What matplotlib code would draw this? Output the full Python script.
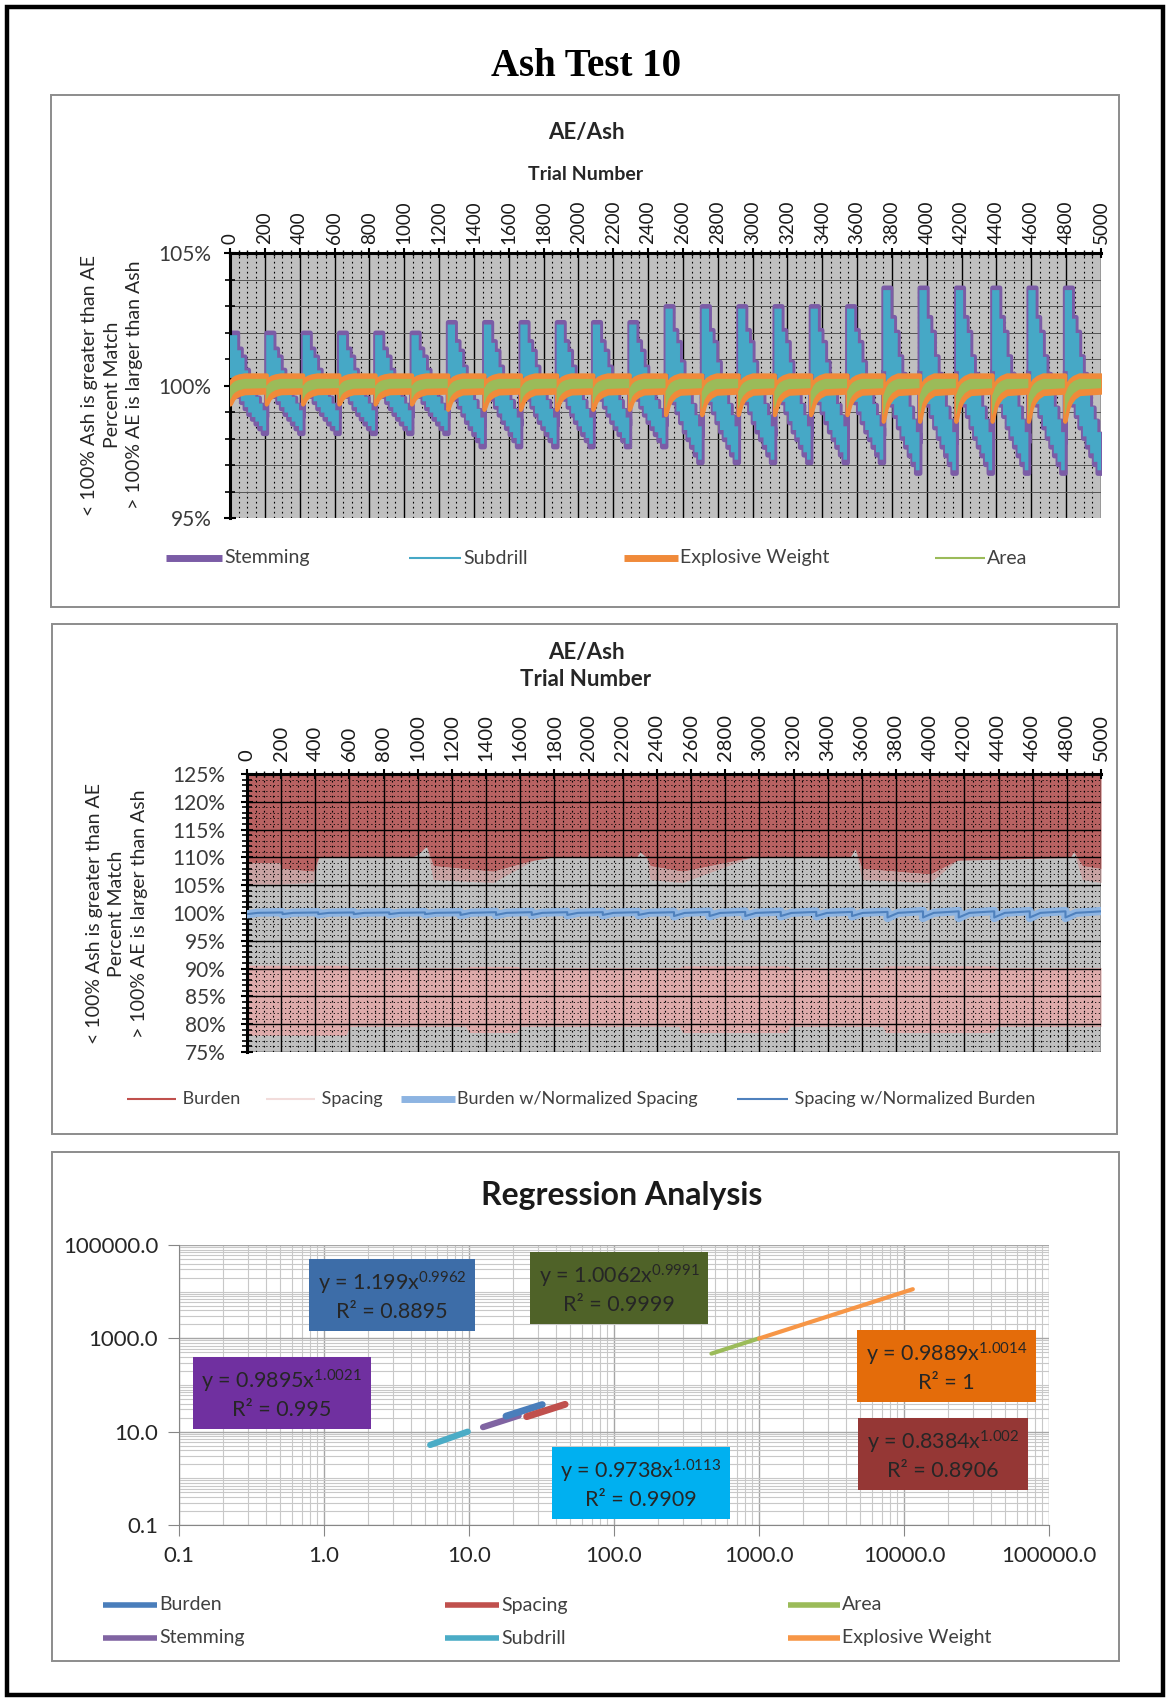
import matplotlib
matplotlib.use('Agg')
import matplotlib.pyplot as plt
from matplotlib.patches import Rectangle
from matplotlib.lines import Line2D
from matplotlib.ticker import MultipleLocator, FuncFormatter, FixedLocator, LogLocator, NullFormatter

plt.rcParams['font.family'] = ['Lato', 'DejaVu Sans']
plt.rcParams['mathtext.default'] = 'regular'

W, H = 1168, 1700
n_trials = 5000

# ---- AE/Ash sweep: 24 cycles of the parameter loop
cycle_start = [0, 208, 417, 625, 833, 1042, 1250, 1458, 1667, 1875, 2083, 2292,
               2500, 2708, 2917, 3125, 3333, 3542, 3750, 3958, 4167, 4375, 4583, 4792]

stem_peak = [102.0, 102.0, 102.0, 102.0, 102.0, 102.0, 102.4, 102.4, 102.4, 102.4, 102.4, 102.4,
             103.0, 103.0, 103.0, 103.0, 103.0, 103.0, 103.7, 103.7, 103.7, 103.7, 103.7, 103.7]
stem_trough = [98.2, 98.2, 98.2, 98.2, 98.2, 98.2, 97.7, 97.7, 97.7, 97.7, 97.7, 97.7,
               97.1, 97.1, 97.1, 97.1, 97.1, 97.1, 96.7, 96.7, 96.7, 96.7, 96.7, 96.7]
sub_peak = [101.9, 101.9, 101.9, 101.9, 101.9, 101.9, 102.3, 102.3, 102.3, 102.3, 102.3, 102.3,
            102.9, 102.9, 102.9, 102.9, 102.9, 102.9, 103.6, 103.6, 103.6, 103.6, 103.6, 103.6]
sub_trough = [98.3, 98.3, 98.3, 98.3, 98.3, 98.3, 97.8, 97.8, 97.8, 97.8, 97.8, 97.8,
              97.2, 97.2, 97.2, 97.2, 97.2, 97.2, 96.8, 96.8, 96.8, 96.8, 96.8, 96.8]

# shape of one cycle (+1 = peak, -1 = trough)
stem_f = [0.0, 0.08, 0.15, 0.2, 0.3, 0.4, 0.5, 0.6, 0.7, 0.8, 0.9, 1.0]
stem_up = [1.0, 1.0, 1.0, 0.7, 0.55, 0.3, 0.12, -0.08, -0.25, -0.4, -0.55, -0.65]
stem_lo = [0.15, 0.0, -0.12, -0.22, -0.35, -0.48, -0.6, -0.7, -0.8, -0.9, -1.0, -1.0]

# explosive weight / area: flat band with a dip at each cycle start
ew_hi, ew_lo = 100.4, 99.75
ew_dip = [99.3, 99.3, 99.3, 99.3, 99.3, 99.3, 99.1, 99.1, 99.1, 99.1, 99.1, 99.1,
          98.9, 98.9, 98.9, 98.9, 98.9, 98.9, 98.65, 98.65, 98.65, 98.65, 98.65, 98.65]
area_hi, area_lo = 100.25, 99.9
area_dip = [99.45, 99.45, 99.45, 99.45, 99.45, 99.45, 99.3, 99.3, 99.3, 99.3, 99.3, 99.3,
            99.1, 99.1, 99.1, 99.1, 99.1, 99.1, 98.85, 98.85, 98.85, 98.85, 98.85, 98.85]
dip_f = [0.0, 0.03, 0.08, 0.15, 0.25, 0.4, 1.0]
dip_wl = [1.0, 0.85, 0.55, 0.35, 0.18, 0.05, 0.0]
dip_wu = [0.6, 0.5, 0.32, 0.18, 0.08, 0.0, 0.0]

# ---- burden / spacing panel
burden_t = [0, 190, 200, 390, 420, 960, 1000, 1050, 1090, 1440, 1680, 1780, 2280, 2300,
            2340, 2360, 2550, 2950, 3530, 3560, 3600, 4000, 4160, 4820, 4840, 4890, 5000]
burden_edge = [109.0, 109.0, 108.0, 107.5, 110.0, 110.0, 110.5, 112.0, 108.5, 107.5, 109.5,
               110.0, 110.0, 111.0, 110.0, 108.5, 107.5, 110.0, 110.0, 111.5, 108.0, 107.0,
               109.5, 110.0, 111.0, 108.5, 108.0]
burden_sparse = [105.2, 105.2, 105.2, 105.5, 110.0, 110.0, 110.5, 112.0, 106.0, 105.5, 109.5,
                 110.0, 110.0, 111.0, 110.0, 106.0, 105.5, 110.0, 110.0, 111.5, 106.0, 105.5,
                 109.5, 110.0, 111.0, 106.0, 105.5]
spacing_t = [0, 580, 600, 1280, 1300, 1580, 1600, 2530, 2550, 3160, 3180, 3720, 3740, 4370, 4390, 5000]
spacing_bottom = [78.0, 78.0, 79.6, 79.6, 78.5, 78.5, 79.6, 79.6, 78.5, 78.5, 79.6, 79.6,
                  78.5, 78.5, 79.6, 79.6]
spacing_top = [90.6, 90.6, 90.2, 90.2, 90.4, 90.4, 90.2, 90.2, 90.5, 90.5, 90.2, 90.2,
               90.5, 90.5, 90.2, 90.2]

bns_low = [99.75, 99.75, 99.75, 99.75, 99.75, 99.75, 99.6, 99.6, 99.6, 99.6, 99.6, 99.6,
           99.4, 99.4, 99.4, 99.4, 99.4, 99.4, 99.1, 99.1, 99.1, 99.1, 99.1, 99.1]
bns_high = [100.15, 100.15, 100.15, 100.15, 100.15, 100.15, 100.2, 100.2, 100.2, 100.2, 100.2, 100.2,
            100.25, 100.25, 100.25, 100.25, 100.25, 100.25, 100.35, 100.35, 100.35, 100.35, 100.35, 100.35]
snb_low = [99.8, 99.8, 99.8, 99.8, 99.8, 99.8, 99.65, 99.65, 99.65, 99.65, 99.65, 99.65,
           99.45, 99.45, 99.45, 99.45, 99.45, 99.45, 99.2, 99.2, 99.2, 99.2, 99.2, 99.2]
snb_high = [100.1, 100.1, 100.1, 100.1, 100.1, 100.1, 100.15, 100.15, 100.15, 100.15, 100.15, 100.15,
            100.2, 100.2, 100.2, 100.2, 100.2, 100.2, 100.3, 100.3, 100.3, 100.3, 100.3, 100.3]

# ---- regression (trial ranges, log-log)
burden_x, burden_y = [18, 32], [21.5, 38]
spacing_x, spacing_y = [25, 46], [21, 38.5]
stemming_x, stemming_y = [12.5, 22], [12.5, 22]
subdrill_x, subdrill_y = [5.4, 9.8], [5.2, 10.0]
area_x, area_y = [470, 1000], [470, 1000]
explosive_x, explosive_y = [1000, 11500], [990, 11300]
reg_ticks = [0.1, 1, 10, 100, 1000, 10000, 100000]
reg_yticks = [0.1, 10, 1000, 100000]
fits = [
    ('y = 1.199x$^{0.9962}$\nR² = 0.8895', '#3D6DA8', 0.245, 0.818),
    ('y = 1.0062x$^{0.9991}$\nR² = 0.9999', '#4F6228', 0.506, 0.843),
    ('y = 0.9895x$^{1.0021}$\nR² = 0.995', '#7030A0', 0.118, 0.468),
    ('y = 0.9738x$^{1.0113}$\nR² = 0.9909', '#00B0F0', 0.531, 0.146),
    ('y = 0.9889x$^{1.0014}$\nR² = 1', '#E46C0A', 0.882, 0.564),
    ('y = 0.8384x$^{1.002}$\nR² = 0.8906', '#953735', 0.878, 0.25),
]

ends = cycle_start[1:] + [n_trials]


def fx(px):
    return px / W


def fy(py):
    return 1 - py / H


def level(s, p, t):
    return 100 + s * (p - 100) if s >= 0 else 100 + s * (100 - t)


def band(peak, trough):
    xs, ups, los = [], [], []
    for a, b, p, t in zip(cycle_start, ends, peak, trough):
        for f, su, sl in zip(stem_f, stem_up, stem_lo):
            xs.append(a + f * (b - a))
            ups.append(level(su, p, t))
            los.append(level(sl, p, t))
    return xs, ups, los


def dip_band(hi, lo, dips):
    xs, ups, los = [], [], []
    for a, b, d in zip(cycle_start, ends, dips):
        depth = lo - d
        for f, wl, wu in zip(dip_f, dip_wl, dip_wu):
            xs.append(a + f * (b - a))
            los.append(lo - depth * wl)
            ups.append(hi - depth * wu)
    return xs, ups, los


def saw(low, high):
    xs, ys = [], []
    for a, b, lo, hi in zip(cycle_start, ends, low, high):
        xs += [a, a + 0.3 * (b - a), b]
        ys += [lo, lo + 0.75 * (hi - lo), hi]
    return xs, ys


def legend_item(x0, x1, y, color, lw, label, fs):
    fig.add_artist(Line2D([fx(x0), fx(x1)], [fy(y), fy(y)], transform=fig.transFigure,
                          color=color, lw=lw, solid_capstyle='butt'))
    fig.text(fx(x1 + 2), fy(y), label, ha='left', va='center', fontsize=fs, color='#404040')


def trial_axis(ax, ylo, yhi, xfs, xpad, ypad):
    ax.set_facecolor('#C0C0C0')
    ax.set_xlim(0, n_trials)
    ax.set_ylim(ylo, yhi)
    ax.xaxis.tick_top()
    ax.xaxis.set_major_locator(MultipleLocator(200))
    ax.xaxis.set_minor_locator(MultipleLocator(50))
    ax.yaxis.set_major_locator(MultipleLocator(5))
    ax.yaxis.set_minor_locator(MultipleLocator(1))
    ax.yaxis.set_major_formatter(FuncFormatter(lambda v, _: f'{v:.0f}%'))
    ax.tick_params(axis='x', which='major', labelsize=xfs, labelrotation=90, direction='inout',
                   length=7, width=1.5, pad=xpad, labelcolor='#1a1a1a')
    ax.tick_params(axis='x', which='minor', direction='inout', length=4, width=1)
    ax.tick_params(axis='y', which='major', direction='inout', length=9, width=1.5,
                   labelsize=15, labelcolor='#3a3a3a', pad=ypad)
    ax.tick_params(axis='y', which='minor', direction='inout', length=7, width=1.2)
    for s in ['bottom', 'right']:
        ax.spines[s].set_visible(False)
    for s in ['top', 'left']:
        ax.spines[s].set_linewidth(2.2)
    ax.grid(which='major', axis='x', color='black', lw=1.0)
    ax.grid(which='minor', axis='x', color='black', lw=0.8, ls=(0, (1.5, 3)))


fig = plt.figure(figsize=(W / 100, H / 100), dpi=100)

fig.patches.append(Rectangle((fx(7), fy(1695)), (1163 - 7) / W, (1695 - 7) / H,
                             transform=fig.transFigure, fill=False, lw=3.2, ec='black'))
for (x0, y0, x1, y1) in [(51, 95, 1119, 607), (52, 624, 1117, 1134), (52, 1152, 1119, 1661)]:
    fig.patches.append(Rectangle((fx(x0), fy(y1)), (x1 - x0) / W, (y1 - y0) / H,
                                 transform=fig.transFigure, fill=False, lw=1.4, ec='#8C8C8C'))

fig.text(fx(586), fy(66), 'Ash Test 10', ha='center', va='center', fontsize=28,
         family='Liberation Serif', fontweight='bold', color='black')

# ---------------- panel 1
ax1 = fig.add_axes([fx(230), fy(518), (1101 - 230) / W, (518 - 253) / H])
trial_axis(ax1, 95, 105, 13.5, 3, 9)
ax1.grid(which='both', axis='y', color='#555555', lw=0.7)
ax1.set_axisbelow(True)

x, u, l = band(stem_peak, stem_trough)
ax1.fill_between(x, l, u, step='post', facecolor='#7B5CA6', edgecolor='#7B5CA6', lw=3.5, zorder=2)
x, u, l = band(sub_peak, sub_trough)
ax1.fill_between(x, l, u, step='post', facecolor='#46A8C6', edgecolor='none', lw=0, zorder=3)
x, u, l = dip_band(ew_hi, ew_lo, ew_dip)
ax1.fill_between(x, l, u, facecolor='#F08A3A', edgecolor='#F08A3A', lw=3, zorder=4)
x, u, l = dip_band(area_hi, area_lo, area_dip)
ax1.fill_between(x, l, u, facecolor='#9BBB59', edgecolor='none', lw=0, zorder=5)

fig.text(fx(586), fy(132), 'AE/Ash', ha='center', va='center', fontsize=16,
         fontweight='bold', color='#262626')
fig.text(fx(586), fy(174), 'Trial Number', ha='center', va='center', fontsize=14,
         fontweight='bold', color='#262626')
fig.text(fx(112), fy(385), '< 100% Ash is greater than AE\nPercent Match\n> 100% AE is larger than Ash',
         rotation=90, ha='center', va='center', multialignment='center', fontsize=14,
         linespacing=1.4, color='#262626')

legend_item(166, 222, 558, '#7B5CA6', 5, 'Stemming', 14)
legend_item(409, 461, 558, '#46A8C6', 1.5, 'Subdrill', 14)
legend_item(624, 678, 558, '#F08A3A', 5, 'Explosive Weight', 14)
legend_item(935, 985, 558, '#9BBB59', 1.5, 'Area', 14)

# ---------------- panel 2
ax2 = fig.add_axes([fx(247), fy(1052), (1101 - 247) / W, (1052 - 774) / H])
trial_axis(ax2, 75, 125, 14.5, 6, 11)
ax2.grid(which='major', axis='y', color='black', lw=1.0)
ax2.grid(which='minor', axis='y', color='black', lw=0.6, ls=(0, (1.5, 3)))
ax2.set_axisbelow(False)

ax2.fill_between(burden_t, burden_edge, 125, color='#B86262', lw=0, zorder=1)
ax2.fill_between(burden_t, burden_sparse, burden_edge, color='#C9A3A3', lw=0, zorder=1)
ax2.fill_between(spacing_t, spacing_bottom, spacing_top, color='#DEABAB', lw=0, zorder=1)
x, y = saw(bns_low, bns_high)
ax2.plot(x, y, color='#8DB4E2', lw=6, zorder=4)
x, y = saw(snb_low, snb_high)
ax2.plot(x, y, color='#4F81BD', lw=1.5, zorder=5)

fig.text(fx(586), fy(652), 'AE/Ash', ha='center', va='center', fontsize=16,
         fontweight='bold', color='#262626')
fig.text(fx(586), fy(679), 'Trial Number', ha='center', va='center', fontsize=16,
         fontweight='bold', color='#262626')
fig.text(fx(117), fy(914), '< 100% Ash is greater than AE\nPercent Match\n> 100% AE is larger than Ash',
         rotation=90, ha='center', va='center', multialignment='center', fontsize=14,
         linespacing=1.4, color='#262626')

legend_item(127, 176, 1099, '#C0504D', 1.5, ' Burden', 13)
legend_item(266, 315, 1099, '#F2DCDB', 1.5, ' Spacing', 13)
legend_item(401, 455, 1099, '#8DB4E2', 5, 'Burden w/Normalized Spacing', 13)
legend_item(737, 788, 1099, '#4F81BD', 1.5, ' Spacing w/Normalized Burden', 13)

# ---------------- panel 3
ax3 = fig.add_axes([fx(179), fy(1525), (1049 - 179) / W, (1525 - 1245) / H])
ax3.set_xscale('log')
ax3.set_yscale('log')
ax3.set_xlim(0.1, 1e5)
ax3.set_ylim(0.1, 1e5)
ax3.xaxis.set_major_locator(FixedLocator(reg_ticks))
ax3.yaxis.set_major_locator(FixedLocator(reg_yticks))
ax3.xaxis.set_minor_locator(LogLocator(base=10, subs=(2, 3, 4, 5, 6, 7, 8, 9), numticks=50))
ax3.yaxis.set_minor_locator(LogLocator(base=10, subs=(1, 2, 3, 4, 5, 6, 7, 8, 9), numticks=50))
fmt = FuncFormatter(lambda v, _: f'{v:.1f}')
ax3.xaxis.set_major_formatter(fmt)
ax3.yaxis.set_major_formatter(fmt)
ax3.xaxis.set_minor_formatter(NullFormatter())
ax3.yaxis.set_minor_formatter(NullFormatter())
ax3.tick_params(which='major', length=8, color='#868686', labelsize=16, labelcolor='#262626', pad=7)
ax3.tick_params(which='minor', length=0)
ax3.grid(which='major', color='#A6A6A6', lw=1.0)
ax3.grid(which='minor', color='#C8C8C8', lw=0.8)
ax3.set_axisbelow(True)
for s in ['top', 'right']:
    ax3.spines[s].set_visible(False)
for s in ['bottom', 'left']:
    ax3.spines[s].set_color('#868686')

ax3.plot(subdrill_x, subdrill_y, color='#4BACC6', lw=4.5, solid_capstyle='round')
ax3.plot(stemming_x, stemming_y, color='#8064A2', lw=4.5, solid_capstyle='round')
ax3.plot(burden_x, burden_y, color='#4A7EBB', lw=5, solid_capstyle='round')
ax3.plot(spacing_x, spacing_y, color='#C0504D', lw=5, solid_capstyle='round')
ax3.plot(area_x, area_y, color='#9BBB59', lw=3, solid_capstyle='round')
ax3.plot(explosive_x, explosive_y, color='#F79646', lw=3, solid_capstyle='round')

for txt, col, tx, ty in fits:
    ax3.text(tx, ty, txt, transform=ax3.transAxes, ha='center', va='center',
             multialignment='center', fontsize=15.5, color='#262626', linespacing=1.3,
             bbox=dict(boxstyle='square,pad=0.4', fc=col, ec='none'), zorder=6)

fig.text(fx(622), fy(1195), 'Regression Analysis', ha='center', va='center', fontsize=23,
         fontweight='bold', color='#1a1a1a')

legend_item(103, 157, 1605, '#4A7EBB', 4, 'Burden', 14)
legend_item(445, 499, 1605, '#C0504D', 4, 'Spacing', 14)
legend_item(788, 840, 1605, '#9BBB59', 4, 'Area', 14)
legend_item(103, 157, 1638, '#8064A2', 4, 'Stemming', 14)
legend_item(445, 499, 1638, '#4BACC6', 4, 'Subdrill', 14)
legend_item(788, 840, 1638, '#F79646', 4, 'Explosive Weight', 14)

fig.savefig('out.png', dpi=100)
